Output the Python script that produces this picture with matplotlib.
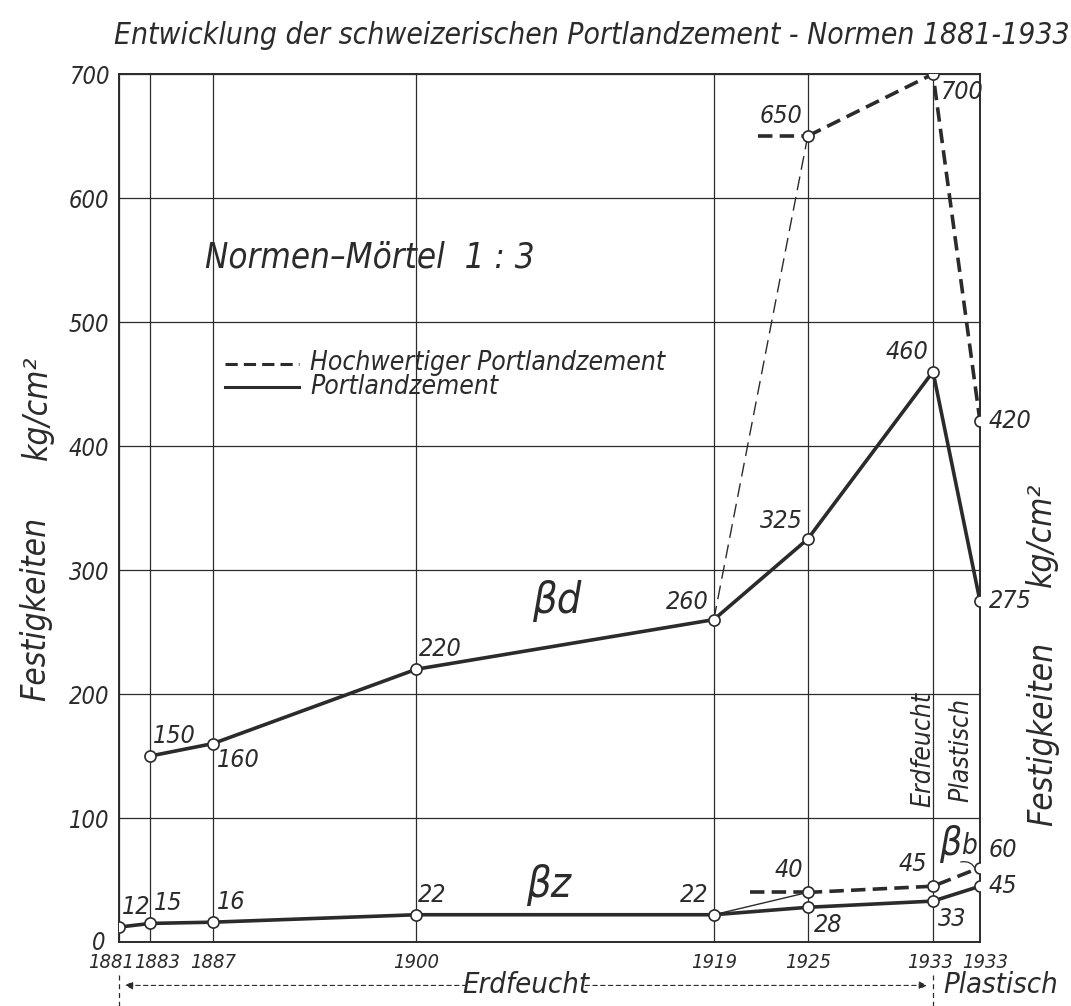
import matplotlib.pyplot as plt
from matplotlib import font_manager
from matplotlib.font_manager import FontProperties
from matplotlib.transforms import ScaledTranslation

# x positions: years, the last column (1933 plastisch) is drawn a bit right of 1933
years = [1881, 1883, 1887, 1900, 1919, 1925, 1933, 1936]
year_labels = ["1881", "1883", "1887", "1900", "1919", "1925", "1933", "1933"]

# Druckfestigkeit beta_d
bd_x = [1883, 1887, 1900, 1919, 1925, 1933, 1936]
bd_portland = [150, 160, 220, 260, 325, 460, 275]
bdh_x = [1925, 1933, 1936]
bdh_values = [650, 700, 420]
bdh_stub_x = [1921.8, 1925]
bdh_link_x = [1919, 1925]
bdh_link_y = [260, 650]

# Zugfestigkeit beta_z / Biegefestigkeit beta_b
bz_x = [1881, 1883, 1887, 1900, 1919, 1925, 1933, 1936]
bz_portland = [12, 15, 16, 22, 22, 28, 33, 45]
bzh_x = [1925, 1933, 1936]
bzh_values = [40, 45, 60]
bzh_stub_x = [1921.3, 1925]
bzh_link_x = [1919, 1925]
bzh_link_y = [22, 40]

y_ticks = [0, 100, 200, 300, 400, 500, 600, 700]

INK = "#2b2b2b"


def pick_font():
    # narrow italic face, closest thing to the lettering stencil
    ranked = []
    for f in font_manager.fontManager.ttflist:
        name = f.fname.lower()
        italic = f.style in ("italic", "oblique")
        narrow = ("narrow" in name or "condensed" in name
                  or str(f.stretch) in ("condensed", "semi-condensed", "extra-condensed"))
        if italic and narrow and f.weight in (400, "normal", "regular"):
            ranked.append((0, f.fname))
        elif italic and narrow:
            ranked.append((1, f.fname))
        elif italic and "roboto" in name and f.weight in (400, "normal", "regular"):
            ranked.append((2, f.fname))
    if ranked:
        ranked.sort()
        return ranked[0][1]
    return None


FONT_FILE = pick_font()


def fp(size):
    if FONT_FILE:
        return FontProperties(fname=FONT_FILE, size=size)
    return FontProperties(family="DejaVu Sans", style="italic", size=size)


def nudge(label, dx, dy=0):
    label.set_transform(label.get_transform()
                        + ScaledTranslation(dx / 100, dy / 100, fig.dpi_scale_trans))


fig = plt.figure(figsize=(10.71, 10.06), dpi=100)
ax = fig.add_axes([0.111, 0.0636, 0.804, 0.8628])
ax.set_xlim(1881, 1936)
ax.set_ylim(0, 700)

ax.set_xticks(years)
ax.set_xticklabels(year_labels)
ax.set_yticks(y_ticks)
ax.set_yticklabels([str(v) for v in y_ticks])
ax.tick_params(length=0, colors=INK)
ax.tick_params(axis="y", pad=7)
ax.tick_params(axis="x", pad=8)
ylabs = ax.get_yticklabels()
for lab in ylabs:
    lab.set_fontproperties(fp(17))
nudge(ylabs[0], -4, 2)
xlabs = ax.get_xticklabels()
for lab in xlabs:
    lab.set_fontproperties(fp(14.5))
# squeeze the crowded year labels apart a little
for i, shift in [(0, -8), (1, 7), (6, -3), (7, 5)]:
    nudge(xlabs[i], shift)
ax.grid(True, color=INK, linewidth=0.9)
ax.set_axisbelow(True)
for sp in ax.spines.values():
    sp.set_color(INK)
    sp.set_linewidth(1.4)

mk = dict(marker="o", markersize=8, markerfacecolor="white", markeredgecolor=INK,
          markeredgewidth=1.2, zorder=5)

# Portlandzement (solid)
ax.plot(bd_x, bd_portland, color=INK, lw=2.6, **mk)
ax.plot(bz_x, bz_portland, color=INK, lw=2.6, **mk)

# Hochwertiger Portlandzement (dashed)
ax.plot(bdh_link_x, bdh_link_y, color=INK, lw=1.0, linestyle=(0, (10, 5)), zorder=3)
ax.plot(bdh_stub_x, [bdh_values[0]] * 2, color=INK, lw=2.6, linestyle=(0, (4, 2)), zorder=3)
ax.plot(bdh_x, bdh_values, color=INK, lw=2.6, linestyle=(0, (4, 2)), **mk)
ax.plot(bzh_link_x, bzh_link_y, color=INK, lw=1.0, zorder=3)
ax.plot(bzh_stub_x, [bzh_values[0]] * 2, color=INK, lw=2.6, linestyle=(0, (4, 2)), zorder=3)
ax.plot(bzh_x, bzh_values, color=INK, lw=2.6, linestyle=(0, (4, 2)), **mk)


def put_labels(xs, ys, offsets):
    for x, y, (dx, dy, ha, va) in zip(xs, ys, offsets):
        ax.annotate(str(y), (x, y), xytext=(dx, dy), textcoords="offset pixels",
                    ha=ha, va=va, color=INK, fontproperties=fp(18))


put_labels(bd_x, bd_portland,
           [(3, 8, "left", "bottom"), (4, -4, "left", "top"), (3, 8, "left", "bottom"),
            (-5, 6, "right", "bottom"), (-5, 6, "right", "bottom"), (-5, 8, "right", "bottom"),
            (9, 0, "left", "center")])
put_labels(bdh_x, bdh_values,
           [(-5, 8, "right", "bottom"), (8, -6, "left", "top"), (9, 0, "left", "center")])
put_labels(bz_x, bz_portland,
           [(3, 8, "left", "bottom"), (4, 8, "left", "bottom"), (4, 8, "left", "bottom"),
            (2, 8, "left", "bottom"), (-5, 8, "right", "bottom"), (6, -6, "left", "top"),
            (5, -6, "left", "top"), (9, 0, "left", "center")])
put_labels(bzh_x, bzh_values,
           [(-5, 10, "right", "bottom"), (-6, 10, "right", "bottom"), (9, 6, "left", "bottom")])

# curve names
ax.text(1907.4, 275, "\u03b2d", color=INK, ha="left", va="center", fontproperties=fp(31))
ax.text(1907.0, 46, "\u03b2z", color=INK, ha="left", va="center", fontproperties=fp(31))
ax.text(1933.4, 64, "\u03b2", color=INK, ha="left", va="bottom", fontproperties=fp(28))
ax.text(1934.8, 66, "b", color=INK, ha="left", va="bottom", fontproperties=fp(20))
ax.annotate("", xy=(1935.8, 56), xytext=(1934.6, 64),
            arrowprops=dict(arrowstyle="-", color=INK, lw=0.9,
                            connectionstyle="arc3,rad=-0.5"))

ax.text(1932.4, 155, "Erdfeucht", rotation=90, color=INK, ha="center", va="center",
        fontproperties=fp(19))
ax.text(1934.8, 155, "Plastisch", rotation=90, color=INK, ha="center", va="center",
        fontproperties=fp(19))

ax.text(1886.5, 552, "Normen\u2013M\u00f6rtel  1 : 3", color=INK, ha="left", va="center",
        fontproperties=fp(25))

# legend drawn like the original
ax.plot([1887.8, 1892.5], [466, 466], color=INK, lw=2.2, linestyle=(0, (4, 2)))
ax.plot([1887.8, 1892.5], [448, 448], color=INK, lw=2.2)
ax.text(1893.2, 467, "Hochwertiger Portlandzement", color=INK, va="center",
        fontproperties=fp(19))
ax.text(1893.2, 448, "Portlandzement", color=INK, va="center", fontproperties=fp(19))

# bottom range marks
ax.plot([1881, 1881], [-27, -55], color=INK, lw=0.9, linestyle=(0, (4, 3)), clip_on=False)
ax.plot([1933, 1933], [-27, -55], color=INK, lw=0.9, linestyle=(0, (4, 3)), clip_on=False)
ax.annotate("", xy=(1881.2, -35), xytext=(1903.4, -35), annotation_clip=False,
            arrowprops=dict(arrowstyle="-|>", color=INK, lw=0.8, linestyle=(0, (4, 3)),
                            mutation_scale=12))
ax.annotate("", xy=(1932.8, -35), xytext=(1910.6, -35), annotation_clip=False,
            arrowprops=dict(arrowstyle="-|>", color=INK, lw=0.8, linestyle=(0, (4, 3)),
                            mutation_scale=12))
ax.text(1907.0, -35, "Erdfeucht", color=INK, ha="center", va="center", clip_on=False,
        fontproperties=fp(21))
ax.text(1937.3, -35, "Plastisch", color=INK, ha="center", va="center", clip_on=False,
        fontproperties=fp(21))

# titles
fig.text(0.106, 0.965, "Entwicklung der schweizerischen Portlandzement - Normen 1881-1933",
         color=INK, ha="left", va="center", fontproperties=fp(21.5))
fig.text(0.033, 0.395, "Festigkeiten", rotation=90, color=INK, ha="center", va="center",
         fontproperties=fp(24))
fig.text(0.035, 0.595, "kg/cm\u00b2", rotation=90, color=INK, ha="center", va="center",
         fontproperties=fp(24))
fig.text(0.972, 0.468, "kg/cm\u00b2", rotation=90, color=INK, ha="center", va="center",
         fontproperties=fp(24))
fig.text(0.974, 0.27, "Festigkeiten", rotation=90, color=INK, ha="center", va="center",
         fontproperties=fp(24))

fig.savefig("out.png", dpi=100, facecolor="white")
